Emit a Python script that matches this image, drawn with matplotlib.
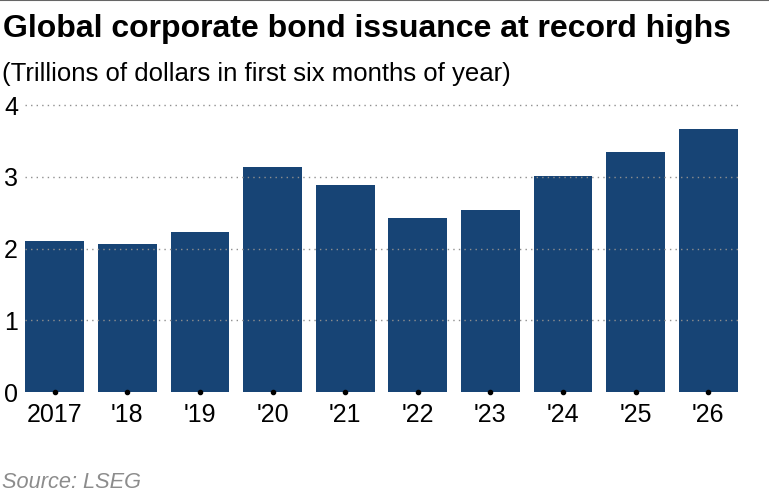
import numpy as np
import matplotlib.pyplot as plt

plt.rcParams["font.family"] = ["Liberation Sans", "DejaVu Sans"]

# =========================
# Data
# =========================
years = ["2017", "'18", "'19", "'20", "'21", "'22", "'23", "'24", "'25", "'26"]
issuance = [2.11, 2.06, 2.23, 3.14, 2.89, 2.43, 2.54, 3.01, 3.34, 3.67]
yticks = [0, 1, 2, 3, 4]

BAR_COLOR = "#174475"

fig = plt.figure(figsize=(7.69, 4.96), dpi=100)
ax = fig.add_axes([25 / 769, (496 - 392) / 496, (738 - 25) / 769, (392 - 103.6) / 496])

x = np.arange(len(years))
ax.bar(x, issuance, width=0.81, color=BAR_COLOR, zorder=1)

# dotted gridlines drawn over the bars
for v in yticks[1:]:
    ax.axhline(v, color="#8f8f8f", linestyle=(0, (1, 3)), linewidth=1.0, zorder=2)

# small dots at bar bases
ax.scatter(x, np.zeros(len(x)), s=9, color="black", zorder=3, clip_on=False)

ax.set_xlim(-0.41, len(years) - 0.59)
ax.set_ylim(0, 4.02)
ax.set_xticks(x)
ax.set_xticklabels(years)
ax.set_yticks(yticks)
ax.tick_params(axis="both", length=0, labelsize=18, colors="black")
ax.tick_params(axis="x", pad=8)
ax.tick_params(axis="y", pad=5)
for s in ax.spines.values():
    s.set_visible(False)

# =========================
# Titles and source
# =========================
fig.text(3 / 769, 1 - 29 / 496, "Global corporate bond issuance at record highs",
         fontsize=23, fontweight="bold", va="center", ha="left")
fig.text(2 / 769, 1 - 74 / 496, "(Trillions of dollars in first six months of year)",
         fontsize=18.5, va="center", ha="left")
fig.text(2 / 769, 1 - 483 / 496, "Source: LSEG", fontsize=15.7, style="italic",
         color="#8c8c8c", va="center", ha="left")

# thin rule along the top edge
fig.add_artist(plt.Line2D([0, 1], [0.999, 0.999], color="#666666", linewidth=1.5,
                          transform=fig.transFigure))

fig.savefig("out.png", dpi=100)
